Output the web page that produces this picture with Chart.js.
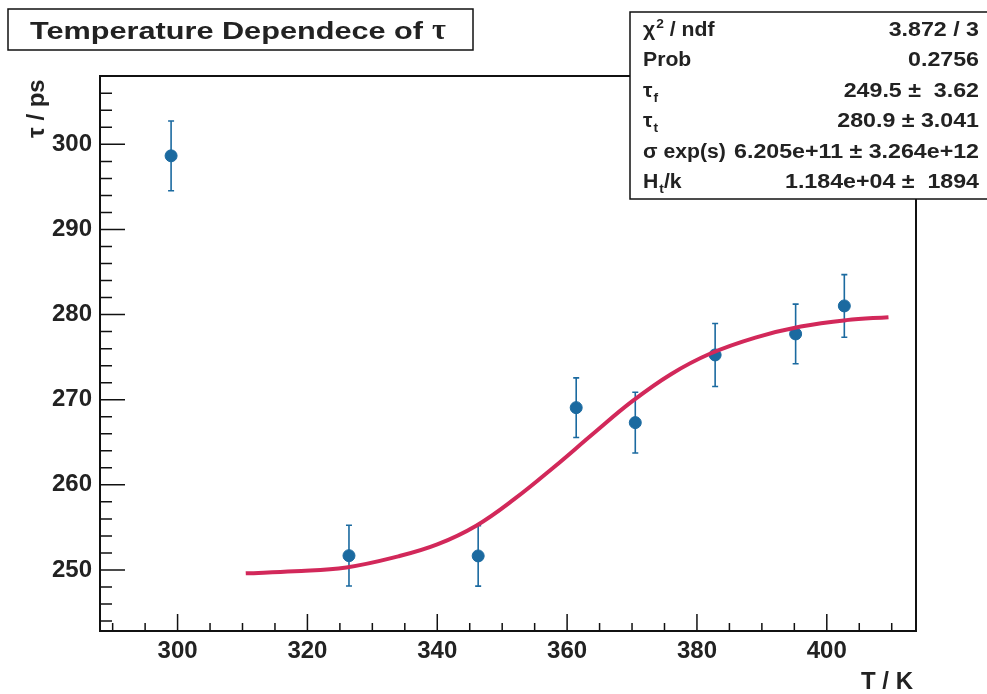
<!DOCTYPE html>
<html>
<head>
<meta charset="utf-8">
<script src="https://cdn.jsdelivr.net/npm/chart.js@4"></script>
<style>
  html, body { margin: 0; padding: 0; background: #fff; }
  #wrap { width: 987px; height: 694px; position: relative; }
</style>
</head>
<body>
<div id="wrap"><canvas id="tauChart"></canvas></div>
<script>
// measured points (T in K, tau in ps)
const tempK = [299.0, 326.4, 346.3, 361.4, 370.5, 382.8, 395.2, 402.7];
const tauPs = [298.65, 251.68, 251.65, 269.07, 267.31, 275.26, 277.73, 281.02];
const tauErr = [4.1, 3.57, 3.55, 3.5, 3.57, 3.7, 3.5, 3.68];

// fit curve
const fitT = [310.5, 318, 326, 334, 340, 346, 352, 358, 364, 370, 376, 382, 389, 396, 403, 409.5];
const fitTau = [249.6, 249.85, 250.3, 251.6, 253.0, 255.2, 258.4, 262.1, 266.0, 269.8, 273.0, 275.4, 277.3, 278.6, 279.35, 279.7];

// axis ticks
const xTicks = [300, 320, 340, 360, 380, 400];
const yTicks = [250, 260, 270, 280, 290, 300];

// fit statistics box
const statNames = [['χ', '2', ' / ndf', 'sup'], ['Prob'], ['τ', 'f', '', 'sub'], ['τ', 't', '', 'sub'], ['σ exp(s)'], ['H', 't', '/k', 'sub']];
const statValues = ['3.872 / 3', '0.2756', '249.5 ±  3.62', '280.9 ± 3.041', '6.205e+11 ± 3.264e+12', '1.184e+04 ±  1894'];

const FONT = '"Liberation Sans", Arial, Helvetica, sans-serif';
const BLUE = '#1b6aa0';
const RED = '#d2285a';

// draw text stretched horizontally
function wideText(ctx, text, x, y, sx, align) {
  ctx.save();
  ctx.translate(x, y);
  ctx.scale(sx, 1);
  ctx.textAlign = align;
  ctx.fillText(text, 0, 0);
  const w = ctx.measureText(text).width * sx;
  ctx.restore();
  return w;
}

// error bars + inward ROOT-style ticks + frame + labels
const rootStyle = {
  id: 'rootStyle',
  beforeDatasetsDraw(chart) {
    const ctx = chart.ctx;
    const xs = chart.scales.x, ys = chart.scales.y;
    ctx.save();
    ctx.strokeStyle = BLUE;
    ctx.lineWidth = 1.6;
    tempK.forEach((t, i) => {
      const px = xs.getPixelForValue(t);
      const top = ys.getPixelForValue(tauPs[i] + tauErr[i]);
      const bot = ys.getPixelForValue(tauPs[i] - tauErr[i]);
      ctx.beginPath();
      ctx.moveTo(px, top); ctx.lineTo(px, bot);
      ctx.moveTo(px - 3, top); ctx.lineTo(px + 3, top);
      ctx.moveTo(px - 3, bot); ctx.lineTo(px + 3, bot);
      ctx.stroke();
    });
    ctx.restore();
  },
  afterDraw(chart) {
    const ctx = chart.ctx;
    const a = chart.chartArea;
    const xs = chart.scales.x, ys = chart.scales.y;
    ctx.save();
    ctx.strokeStyle = '#111';
    ctx.lineWidth = 2;
    ctx.strokeRect(a.left, a.top, a.right - a.left, a.bottom - a.top);

    ctx.lineWidth = 1.5;
    ctx.beginPath();
    for (let v = 290; v <= 410; v += 5) {
      const px = xs.getPixelForValue(v);
      const len = v % 20 === 0 ? 17 : 8;
      ctx.moveTo(px, a.bottom); ctx.lineTo(px, a.bottom - len);
    }
    for (let v = 244; v <= 308; v += 2) {
      const py = ys.getPixelForValue(v);
      const len = v % 10 === 0 ? 25 : 12;
      ctx.moveTo(a.left, py); ctx.lineTo(a.left + len, py);
    }
    ctx.stroke();

    // axis titles
    ctx.fillStyle = '#222';
    ctx.font = 'bold 24px ' + FONT;
    ctx.textAlign = 'right';
    ctx.textBaseline = 'alphabetic';
    ctx.fillText('T / K', 913, 689);

    ctx.save();
    ctx.translate(44, 138);
    ctx.rotate(-Math.PI / 2);
    ctx.textAlign = 'left';
    ctx.fillText('τ / ps', 0, 0);
    ctx.restore();

    // title box
    ctx.fillStyle = '#fff';
    ctx.fillRect(8, 9, 465, 41);
    ctx.strokeRect(8, 9, 465, 41);
    ctx.fillStyle = '#222';
    ctx.font = 'bold 24px ' + FONT;
    const title = 'Temperature Dependece of';
    wideText(ctx, title, 30, 39, 393 / ctx.measureText(title).width, 'left');
    ctx.font = 'bold 30px "Liberation Serif", "DejaVu Serif", serif';
    ctx.textAlign = 'left';
    ctx.fillText('τ', 432, 39);

    // stats box
    ctx.fillStyle = '#fff';
    ctx.fillRect(630, 12, 370, 187);
    ctx.strokeRect(630, 12, 370, 187);
    ctx.fillStyle = '#222';
    const sx = 1.06;
    statNames.forEach((seg, i) => {
      const base = 36 + i * 30.4;
      let x = 643;
      ctx.font = 'bold 20px ' + FONT;
      x += wideText(ctx, seg[0], x, base, sx, 'left');
      if (seg.length > 1) {
        ctx.font = 'bold 13px ' + FONT;
        const dy = seg[3] === 'sup' ? -8 : 5;
        x += wideText(ctx, seg[1], x + 1, base + dy, sx, 'left') + 1;
        ctx.font = 'bold 20px ' + FONT;
        wideText(ctx, seg[2], x, base, sx, 'left');
      }
      ctx.font = 'bold 20px ' + FONT;
      wideText(ctx, statValues[i], 979, base, 1.16, 'right');
    });
    ctx.restore();
  }
};

new Chart(document.getElementById('tauChart'), {
  type: 'scatter',
  data: {
    datasets: [
      {
        type: 'line',
        label: 'fit',
        data: fitT.map((t, i) => ({ x: t, y: fitTau[i] })),
        borderColor: RED,
        borderWidth: 4,
        pointRadius: 0,
        tension: 0.4,
        fill: false,
        order: 0
      },
      {
        label: 'data',
        data: tempK.map((t, i) => ({ x: t, y: tauPs[i] })),
        backgroundColor: BLUE,
        borderColor: BLUE,
        pointRadius: 6,
        order: 1
      }
    ]
  },
  options: {
    responsive: true,
    maintainAspectRatio: false,
    animation: false,
    layout: { padding: { top: 76, right: 71, left: 0, bottom: 0 } },
    plugins: {
      legend: { display: false },
      tooltip: { enabled: false }
    },
    scales: {
      x: {
        type: 'linear',
        min: 288.05,
        max: 413.74,
        grid: { display: false, drawTicks: false },
        border: { display: false },
        afterBuildTicks: scale => { scale.ticks = xTicks.map(v => ({ value: v })); },
        afterFit: scale => { scale.height = 63; },
        ticks: {
          maxRotation: 0,
          padding: 6,
          color: '#222',
          font: { family: FONT, size: 24, weight: 'bold' }
        }
      },
      y: {
        type: 'linear',
        min: 242.83,
        max: 308.03,
        grid: { display: false, drawTicks: false },
        border: { display: false },
        afterBuildTicks: scale => { scale.ticks = yTicks.map(v => ({ value: v })); },
        afterFit: scale => { scale.width = 100; },
        ticks: {
          padding: 8,
          color: '#222',
          font: { family: FONT, size: 24, weight: 'bold' }
        }
      }
    }
  },
  plugins: [rootStyle]
});
</script>
</body>
</html>
